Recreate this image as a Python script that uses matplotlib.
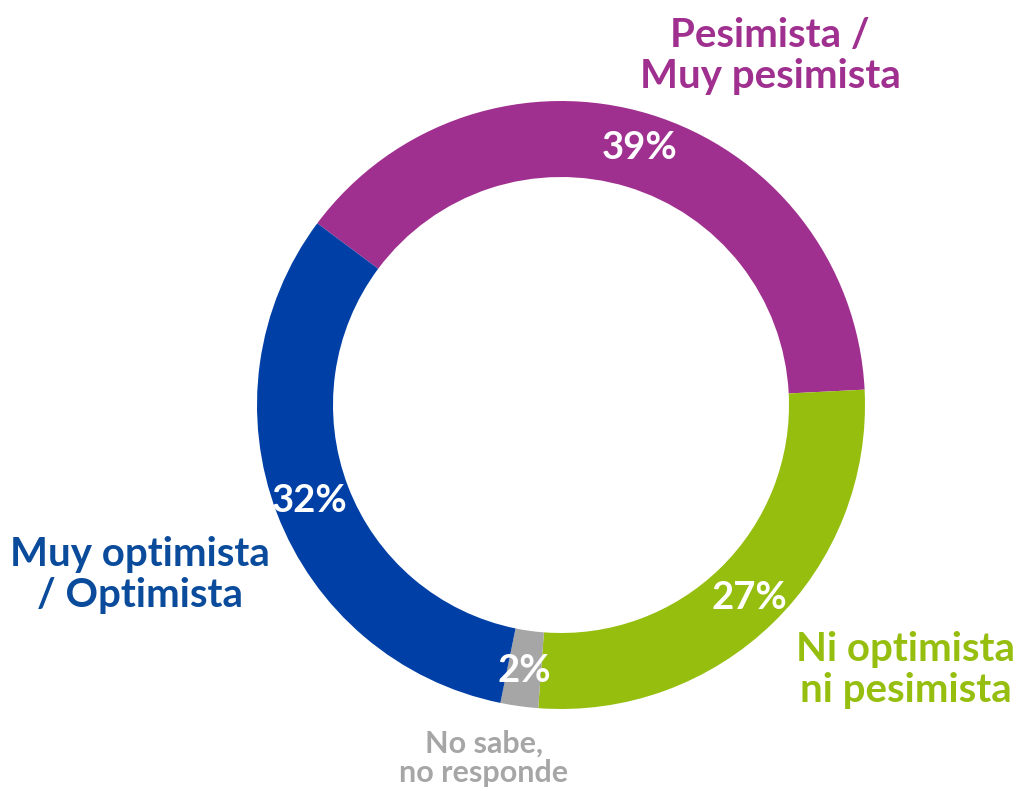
import matplotlib

matplotlib.use("Agg")
import matplotlib.pyplot as plt

# Opinion shares, clockwise from the upper-left boundary
categories = ["Pesimista /\nMuy pesimista", "Ni optimista\nni pesimista",
              "No sabe,\nno responde", "Muy optimista\n/ Optimista"]
shares = [39, 27, 2, 32]
ring_colors = ["#A0308F", "#96BE0F", "#A6A6A6", "#003FA5"]
label_colors = ["#A0308F", "#96BE0F", "#A6A6A6", "#0A4B9B"]

W, H = 1022, 791
CX, CY, R = 561, H - 405, 304

plt.rcParams["font.family"] = ["Lato", "DejaVu Sans"]

fig = plt.figure(figsize=(W / 100, H / 100), dpi=100)
ax = fig.add_axes([0, 0, 1, 1])

ax.pie(
    shares,
    colors=ring_colors,
    startangle=143.3,
    counterclock=False,
    center=(CX, CY),
    radius=R,
    wedgeprops=dict(width=76, linewidth=0),
    autopct=lambda p: f"{p:.0f}%",
    pctdistance=0.885,
    textprops=dict(color="white", fontsize=27.5, fontweight="bold"),
)

ax.set_xlim(0, W)
ax.set_ylim(0, H)
ax.set_aspect("equal")
ax.axis("off")

# category captions outside the ring
big = dict(fontsize=29, fontweight="bold", ha="center", va="center",
           linespacing=1.12)
ax.text(770, H - 56, categories[0], color=label_colors[0], **big)
ax.text(906, H - 670, categories[1], color=label_colors[1], **big)
ax.text(140, H - 575, categories[3], color=label_colors[3], **big)
ax.text(484, H - 758, categories[2], color=label_colors[2], fontsize=22,
        fontweight="bold", ha="center", va="center", linespacing=1.05)

fig.savefig("out.png", dpi=100)
